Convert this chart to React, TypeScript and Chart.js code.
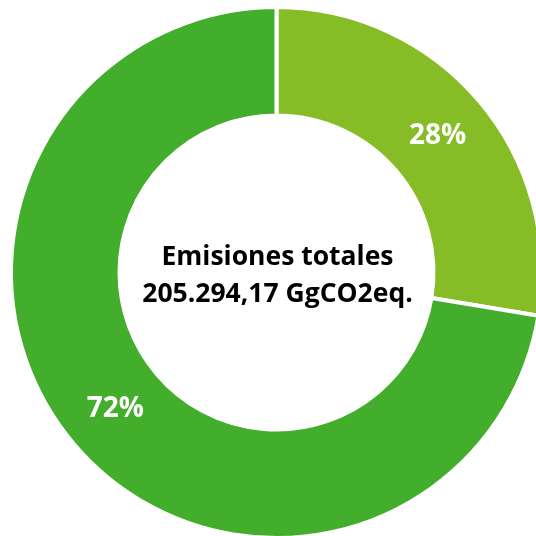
import React, { useEffect, useRef } from "react";
import { Chart, registerables } from "chart.js";

Chart.register(...registerables);

const categories = ["Segmento A", "Segmento B"];
const values = [27.6, 72.4];
const valueLabels = ["28%", "72%"];
const colors = ["#86BC26", "#43AE2C"];
const centerLines = ["Emisiones totales", "205.294,17 GgCO2eq."];

const FONT = "'Open Sans', Lato, sans-serif";

const labelPlugin = {
  id: "labelPlugin",
  afterDatasetsDraw(chart: any) {
    const ctx = chart.ctx;
    const meta = chart.getDatasetMeta(0);
    ctx.save();
    ctx.fillStyle = "#ffffff";
    ctx.font = `bold 28px ${FONT}`;
    ctx.textAlign = "center";
    ctx.textBaseline = "middle";
    meta.data.forEach((arc: any, i: number) => {
      const p = arc.tooltipPosition();
      ctx.fillText(valueLabels[i], p.x, p.y);
    });
    const arc0 = meta.data[0];
    const cx = arc0.x;
    const cy = arc0.y;
    ctx.fillStyle = "#000000";
    ctx.font = `bold 26.5px ${FONT}`;
    ctx.textBaseline = "alphabetic";
    ctx.fillText(centerLines[0], cx + 1, cy - 8);
    ctx.fillText(centerLines[1], cx + 1, cy + 29);
    ctx.restore();
  },
};

export default function App() {
  const ref = useRef<HTMLCanvasElement | null>(null);
  useEffect(() => {
    document.body.style.margin = "0";
    const chart = new Chart(ref.current as HTMLCanvasElement, {
      type: "doughnut",
      data: {
        labels: categories,
        datasets: [
          {
            data: values,
            backgroundColor: colors,
            borderColor: "#ffffff",
            borderWidth: 4,
            hoverOffset: 0,
          },
        ],
      },
      options: {
        responsive: false,
        animation: false,
        cutout: 157,
        layout: { padding: { left: 9, top: 5, right: 16, bottom: 20 } },
        plugins: {
          legend: { display: false },
          tooltip: { enabled: false },
        },
      },
      plugins: [labelPlugin],
    });
    return () => chart.destroy();
  }, []);
  return (
    <div style={{ position: "absolute", left: 0, top: 0, width: 536, height: 536, overflow: "hidden", background: "#fff" }}>
      <canvas ref={ref} width={560} height={560} style={{ width: 560, height: 560, display: "block" }} />
    </div>
  );
}
